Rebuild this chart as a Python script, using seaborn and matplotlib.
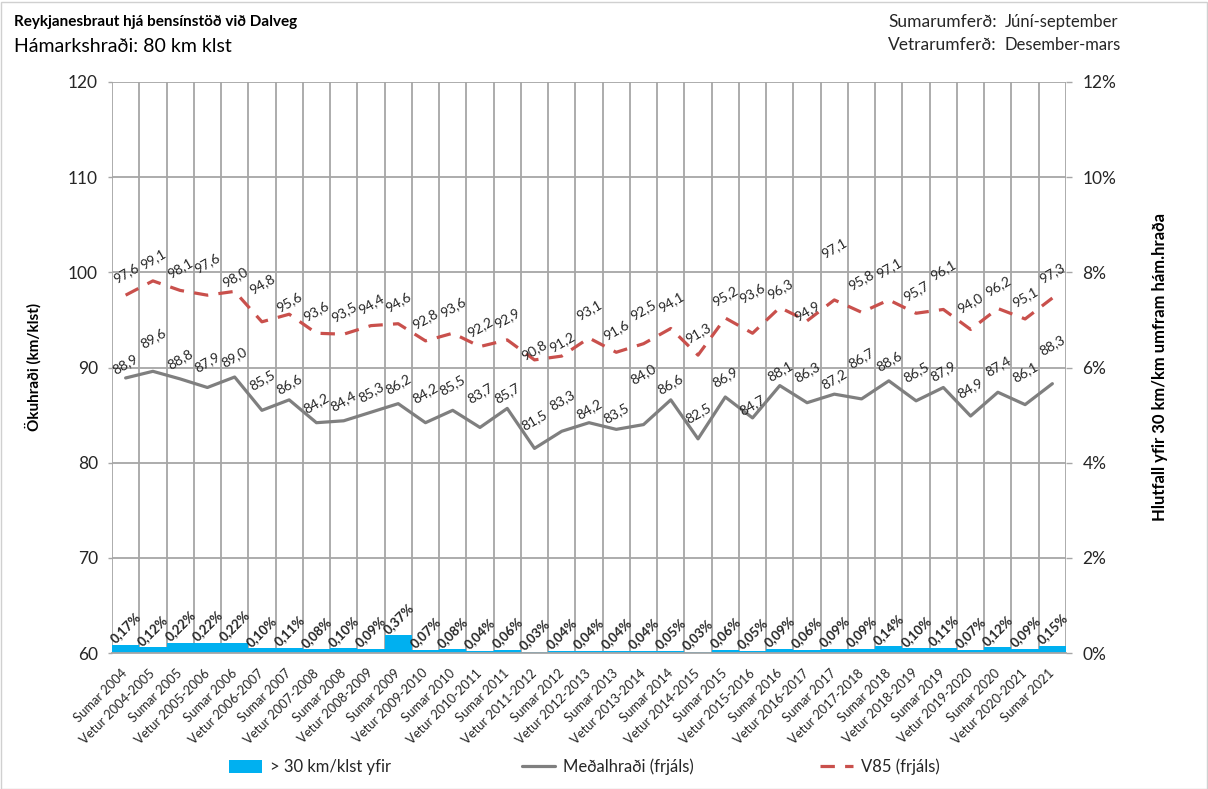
import numpy as np
import pandas as pd
import matplotlib
matplotlib.use("Agg")
import matplotlib.pyplot as plt
import seaborn as sns
from matplotlib.patches import Patch, Rectangle
from matplotlib.lines import Line2D

# Measurement periods
periods = [
    "Sumar 2004", "Vetur 2004-2005", "Sumar 2005", "Vetur 2005-2006", "Sumar 2006",
    "Vetur 2006-2007", "Sumar 2007", "Vetur 2007-2008", "Sumar 2008", "Vetur 2008-2009",
    "Sumar 2009", "Vetur 2009-2010", "Sumar 2010", "Vetur 2010-2011", "Sumar 2011",
    "Vetur 2011-2012", "Sumar 2012", "Vetur 2012-2013", "Sumar 2013", "Vetur 2013-2014",
    "Sumar 2014", "Vetur 2014-2015", "Sumar 2015", "Vetur 2015-2016", "Sumar 2016",
    "Vetur 2016-2017", "Sumar 2017", "Vetur 2017-2018", "Sumar 2018", "Vetur 2018-2019",
    "Sumar 2019", "Vetur 2019-2020", "Sumar 2020", "Vetur 2020-2021", "Sumar 2021",
]

# Mean free-flow speed (km/klst)
medalhradi = [
    88.9, 89.6, 88.8, 87.9, 89.0, 85.5, 86.6, 84.2, 84.4, 85.3,
    86.2, 84.2, 85.5, 83.7, 85.7, 81.5, 83.3, 84.2, 83.5, 84.0,
    86.6, 82.5, 86.9, 84.7, 88.1, 86.3, 87.2, 86.7, 88.6, 86.5,
    87.9, 84.9, 87.4, 86.1, 88.3,
]

# 85th percentile free-flow speed (km/klst)
v85 = [
    97.6, 99.1, 98.1, 97.6, 98.0, 94.8, 95.6, 93.6, 93.5, 94.4,
    94.6, 92.8, 93.6, 92.2, 92.9, 90.8, 91.2, 93.1, 91.6, 92.5,
    94.1, 91.3, 95.2, 93.6, 96.3, 94.9, 97.1, 95.8, 97.1, 95.7,
    96.1, 94.0, 96.2, 95.1, 97.3,
]

# Share of vehicles more than 30 km/klst over the limit (%)
yfir30 = [
    0.17, 0.12, 0.22, 0.22, 0.22, 0.10, 0.11, 0.08, 0.10, 0.09,
    0.37, 0.07, 0.08, 0.04, 0.06, 0.03, 0.04, 0.04, 0.04, 0.04,
    0.05, 0.03, 0.06, 0.05, 0.09, 0.06, 0.09, 0.09, 0.14, 0.10,
    0.11, 0.07, 0.12, 0.09, 0.15,
]

left_ticks = [60, 70, 80, 90, 100, 110, 120]
right_ticks = [0, 2, 4, 6, 8, 10, 12]

# Label lift above each point, in pixels (default plus hand-placed exceptions)
LIFT_MEDAL_DEFAULT = 20
lift_medal = {0: 14, 1: 33, 3: 25, 5: 30, 6: 16, 11: 30, 12: 25, 13: 34, 14: 15,
              15: 28, 16: 31, 17: 14, 18: 16, 19: 50, 20: 16, 21: 26, 23: 13,
              24: 14, 25: 31, 26: 15, 27: 41, 29: 29, 30: 16, 31: 28, 32: 26,
              33: 33, 34: 39}
LIFT_V85_DEFAULT = 22
lift_v85 = {3: 32, 4: 14, 5: 38, 6: 12, 12: 26, 13: 19, 15: 10, 16: 14, 17: 28,
            19: 34, 20: 26, 23: 40, 24: 18, 25: 10, 26: 52, 27: 32, 28: 32,
            30: 39, 31: 26, 34: 25}

BLUE = "#00B0F0"
GRAY = "#7F7F7F"
RED = "#C9504C"
GRID = "#A6A6A6"
TXT = "#262626"

sns.set_theme(style="white")
plt.rcParams["font.family"] = ["Lato", "DejaVu Sans"]
plt.rcParams["text.color"] = TXT

df = pd.DataFrame({
    "period": periods,
    "pos": np.arange(len(periods)),
    "medal": medalhradi,
    "v85": v85,
    "yfir": yfir30,
})

W, H = 1208, 789
fig = plt.figure(figsize=(W / 100, H / 100), dpi=100)
L, R, T, B = 112, 1066, 82, 653
ax = fig.add_axes([L / W, 1 - B / H, (R - L) / W, (B - T) / H])
ax2 = ax.twinx()

DASH = (0, (4.5, 3.2))

# Lines on the speed axis
sns.lineplot(data=df, x="pos", y="medal", ax=ax, color=GRAY, lw=2.3, legend=False)
sns.lineplot(data=df, x="pos", y="v85", ax=ax, color=RED, lw=2.3,
             linestyle=DASH, legend=False)

# Bars on the percentage axis
sns.barplot(data=df, x="pos", y="yfir", ax=ax2, native_scale=True, color=BLUE,
            width=1.0, errorbar=None, saturation=1, linewidth=0, edgecolor="none")

n = len(periods)
ax.set_xlim(-0.5, n - 0.5)
ax.set_ylim(60, 120)
ax2.set_ylim(0, 12)

ax.set_yticks(left_ticks)
ax.set_yticklabels([str(t) for t in left_ticks], fontsize=12.5, color=TXT)
ax2.set_yticks(right_ticks)
ax2.set_yticklabels([f"{t}%" for t in right_ticks], fontsize=12.5, color=TXT)

ax.set_xticks(np.arange(n))
ax.set_xticklabels(periods, rotation=45, ha="right", va="center",
                   rotation_mode="anchor", fontsize=9.3, color=TXT)
ax.set_xticks(np.arange(-0.5, n, 1.0), minor=True)
ax.tick_params(axis="x", which="major", length=0, pad=13)
ax.tick_params(axis="x", which="minor", length=4, color=GRID, width=1, direction="out")
ax.tick_params(axis="y", length=3, color=GRID, width=1, pad=7, left=True)
ax2.tick_params(axis="y", length=4.3, color=GRID, width=1, pad=7.5, right=True)

ax.grid(False)
ax2.grid(False)
ax.grid(axis="y", which="major", color=GRID, lw=1.3)
ax.grid(axis="x", which="minor", color=GRID, lw=1.3)
ax.set_axisbelow(True)

for a in (ax, ax2):
    for s in a.spines.values():
        s.set_visible(False)
ax2.spines["bottom"].set_visible(True)
ax2.spines["bottom"].set_color(GRID)
ax2.spines["bottom"].set_linewidth(1.3)

ax.set_xlabel("")
ax.set_ylabel("")
ax2.set_xlabel("")
ax2.set_ylabel("")


def fmt(v, d=1):
    return f"{v:.{d}f}".replace(".", ",")


# Value labels
for i, (m, v) in enumerate(zip(medalhradi, v85)):
    ax.annotate(fmt(m), (i, m), xytext=(0, lift_medal.get(i, LIFT_MEDAL_DEFAULT)),
                textcoords="offset pixels", ha="center", va="center",
                rotation=30, fontsize=10, color=TXT)
    ax.annotate(fmt(v), (i, v), xytext=(0, lift_v85.get(i, LIFT_V85_DEFAULT)),
                textcoords="offset pixels", ha="center", va="center",
                rotation=30, fontsize=10, color=TXT)
for i, p in enumerate(yfir30):
    ax2.annotate(fmt(p, 2) + "%", (i, p), xytext=(0, 17), textcoords="offset pixels",
                 ha="center", va="center", rotation=45, fontsize=9.5,
                 fontweight="bold", color=TXT)

# Titles and notes
fig.text(14 / W, 1 - 22 / H, "Reykjanesbraut hjá bensínstöð við Dalveg",
         ha="left", va="center", fontsize=11, fontweight="bold", color="#000000")
fig.text(14 / W, 1 - 47 / H, "Hámarkshraði: 80 km klst",
         ha="left", va="center", fontsize=14, color="#000000")
fig.text(888 / W, 1 - 22 / H, "Sumarumferð:", ha="left", va="center", fontsize=12.5)
fig.text(1005 / W, 1 - 22 / H, "Júní-september", ha="left", va="center", fontsize=12)
fig.text(888 / W, 1 - 45 / H, "Vetrarumferð:", ha="left", va="center", fontsize=12.5)
fig.text(1005 / W, 1 - 45 / H, "Desember-mars", ha="left", va="center", fontsize=12)

fig.text(33 / W, 1 - 367 / H, "Ökuhraði (km/klst)", rotation=90,
         ha="center", va="center", fontsize=11, fontweight="bold", color="#000000")
fig.text(1160 / W, 1 - 367 / H, "Hlutfall yfir 30 km/km umfram hám.hraða", rotation=90,
         ha="center", va="center", fontsize=12, fontweight="bold", color="#000000")

# Legend: one entry per slot along the bottom
legend_items = [
    (Patch(facecolor=BLUE, edgecolor="none"), "> 30 km/klst yfir", 229),
    (Line2D([], [], color=GRAY, lw=2.3), "Meðalhraði (frjáls)", 522),
    (Line2D([], [], color=RED, lw=2.3, linestyle=DASH), "V85 (frjáls)", 820),
]
for handle, label, x0 in legend_items:
    fig.legend([handle], [label], loc="center left",
               bbox_to_anchor=(x0 / W, 1 - 767 / H), frameon=False, fontsize=12,
               handlelength=2.0, handleheight=0.8, handletextpad=0.45,
               borderpad=0, borderaxespad=0)

# Chart border
fig.add_artist(Rectangle((0.5 / W, 0.5 / H), 1 - 2 / W, 1 - 2 / H,
                         transform=fig.transFigure, fill=False,
                         edgecolor="#D0D0D0", lw=1))

fig.savefig("out.png", dpi=100)
